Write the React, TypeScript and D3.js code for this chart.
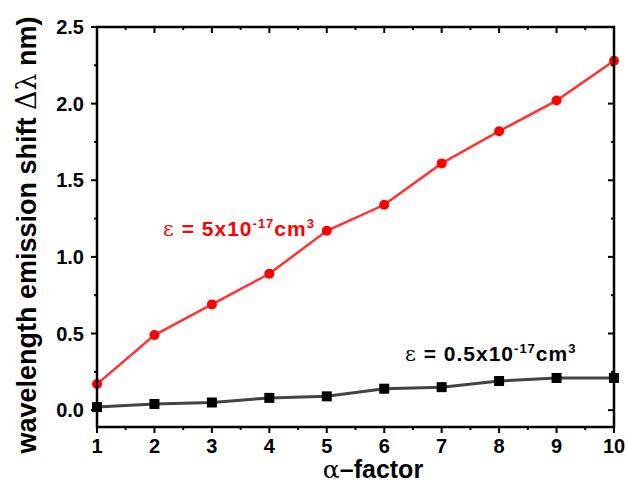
import React from "react";
import * as d3 from "d3";

const alphaFactor = [1, 2, 3, 4, 5, 6, 7, 8, 9, 10];
const shiftHigh = [0.17, 0.49, 0.69, 0.89, 1.17, 1.34, 1.61, 1.82, 2.02, 2.28];
const shiftLow = [0.02, 0.04, 0.05, 0.08, 0.09, 0.14, 0.15, 0.19, 0.21, 0.21];
const yTicks = [0, 0.5, 1.0, 1.5, 2.0, 2.5];
const xTicks = [1, 2, 3, 4, 5, 6, 7, 8, 9, 10];

const W = 627, H = 484;
const M = { left: 97, right: 614, top: 27, bottom: 427 };
const FONT = "'Liberation Sans', Arial, sans-serif";
const SERIF = "'DejaVu Serif', 'Liberation Serif', serif";

export default function App() {
  const x = d3.scaleLinear().domain([1, 10]).range([M.left, M.right]);
  const y = d3.scaleLinear().domain([-0.11, 2.5]).range([M.bottom, M.top]);
  const line = d3.line<number>().x((_, i) => x(alphaFactor[i])).y((d) => y(d));
  const xMinor = d3.range(1.5, 10, 1);
  const yMinor = d3.range(0.25, 2.5, 0.5);
  const major = 6, minor = 3;
  return (
    <svg width={W} height={H} style={{ position: "absolute", left: 0, top: 0, background: "#fff" }}>
      {/* series */}
      <path d={line(shiftLow) || ""} fill="none" stroke="#444" strokeWidth={3} />
      {shiftLow.map((v, i) => (
        <rect key={"l" + i} x={x(alphaFactor[i]) - 5} y={y(v) - 5} width={10} height={10} fill="#000" />
      ))}
      <path d={line(shiftHigh) || ""} fill="none" stroke="#f33" strokeWidth={2.5} />
      {shiftHigh.map((v, i) => (
        <circle key={"h" + i} cx={x(alphaFactor[i])} cy={y(v)} r={5} fill="#f00" />
      ))}
      {/* frame */}
      <rect x={M.left} y={M.top} width={M.right - M.left} height={M.bottom - M.top} fill="none" stroke="#000" strokeWidth={2.5} />
      {/* x ticks */}
      {xTicks.map((t) => (
        <g key={"xt" + t}>
          <line x1={x(t)} x2={x(t)} y1={M.bottom} y2={M.bottom + major} stroke="#000" strokeWidth={2} />
          <line x1={x(t)} x2={x(t)} y1={M.top} y2={M.top + major} stroke="#000" strokeWidth={2} />
          <text x={x(t)} y={453} textAnchor="middle" fontFamily={FONT} fontWeight="bold" fontSize={20}>{t}</text>
        </g>
      ))}
      {xMinor.map((t) => (
        <g key={"xm" + t}>
          <line x1={x(t)} x2={x(t)} y1={M.bottom} y2={M.bottom + minor} stroke="#000" strokeWidth={2} />
          <line x1={x(t)} x2={x(t)} y1={M.top} y2={M.top + minor} stroke="#000" strokeWidth={2} />
        </g>
      ))}
      {/* y ticks */}
      {yTicks.map((t) => (
        <g key={"yt" + t}>
          <line x1={M.left - major} x2={M.left} y1={y(t)} y2={y(t)} stroke="#000" strokeWidth={2} />
          <line x1={M.right - major} x2={M.right} y1={y(t)} y2={y(t)} stroke="#000" strokeWidth={2} />
          <text x={84} y={y(t) + 7} textAnchor="end" fontFamily={FONT} fontWeight="bold" fontSize={20}>{t.toFixed(1)}</text>
        </g>
      ))}
      {yMinor.map((t) => (
        <g key={"ym" + t}>
          <line x1={M.left - minor} x2={M.left} y1={y(t)} y2={y(t)} stroke="#000" strokeWidth={2} />
          <line x1={M.right - minor} x2={M.right} y1={y(t)} y2={y(t)} stroke="#000" strokeWidth={2} />
        </g>
      ))}
      {/* axis titles */}
      <text x={373} y={478} textAnchor="middle" fontFamily={FONT} fontWeight="bold" fontSize={25}>
        <tspan fontFamily={SERIF} fontWeight="normal">α</tspan>–factor
      </text>
      <text transform={`translate(36, 235) rotate(-90)`} textAnchor="middle" fontFamily={FONT} fontWeight="bold" fontSize={27}>
        wavelength emission shift <tspan fontFamily={SERIF} fontWeight="normal">Δλ</tspan> nm)
      </text>
      {/* annotations */}
      <text x={163} y={236} fontFamily={FONT} fontWeight="bold" fontSize={21} letterSpacing={1} fill="#f00">
        <tspan fontFamily={SERIF} fontWeight="normal">ε</tspan> = 5x10<tspan dy={-8} fontSize={13}>-17</tspan><tspan dy={8}>cm</tspan><tspan dy={-8} fontSize={13}>3</tspan>
      </text>
      <text x={405} y={361} fontFamily={FONT} fontWeight="bold" fontSize={21} letterSpacing={1} fill="#000">
        <tspan fontFamily={SERIF} fontWeight="normal">ε</tspan> = 0.5x10<tspan dy={-8} fontSize={13}>-17</tspan><tspan dy={8}>cm</tspan><tspan dy={-8} fontSize={13}>3</tspan>
      </text>
    </svg>
  );
}
